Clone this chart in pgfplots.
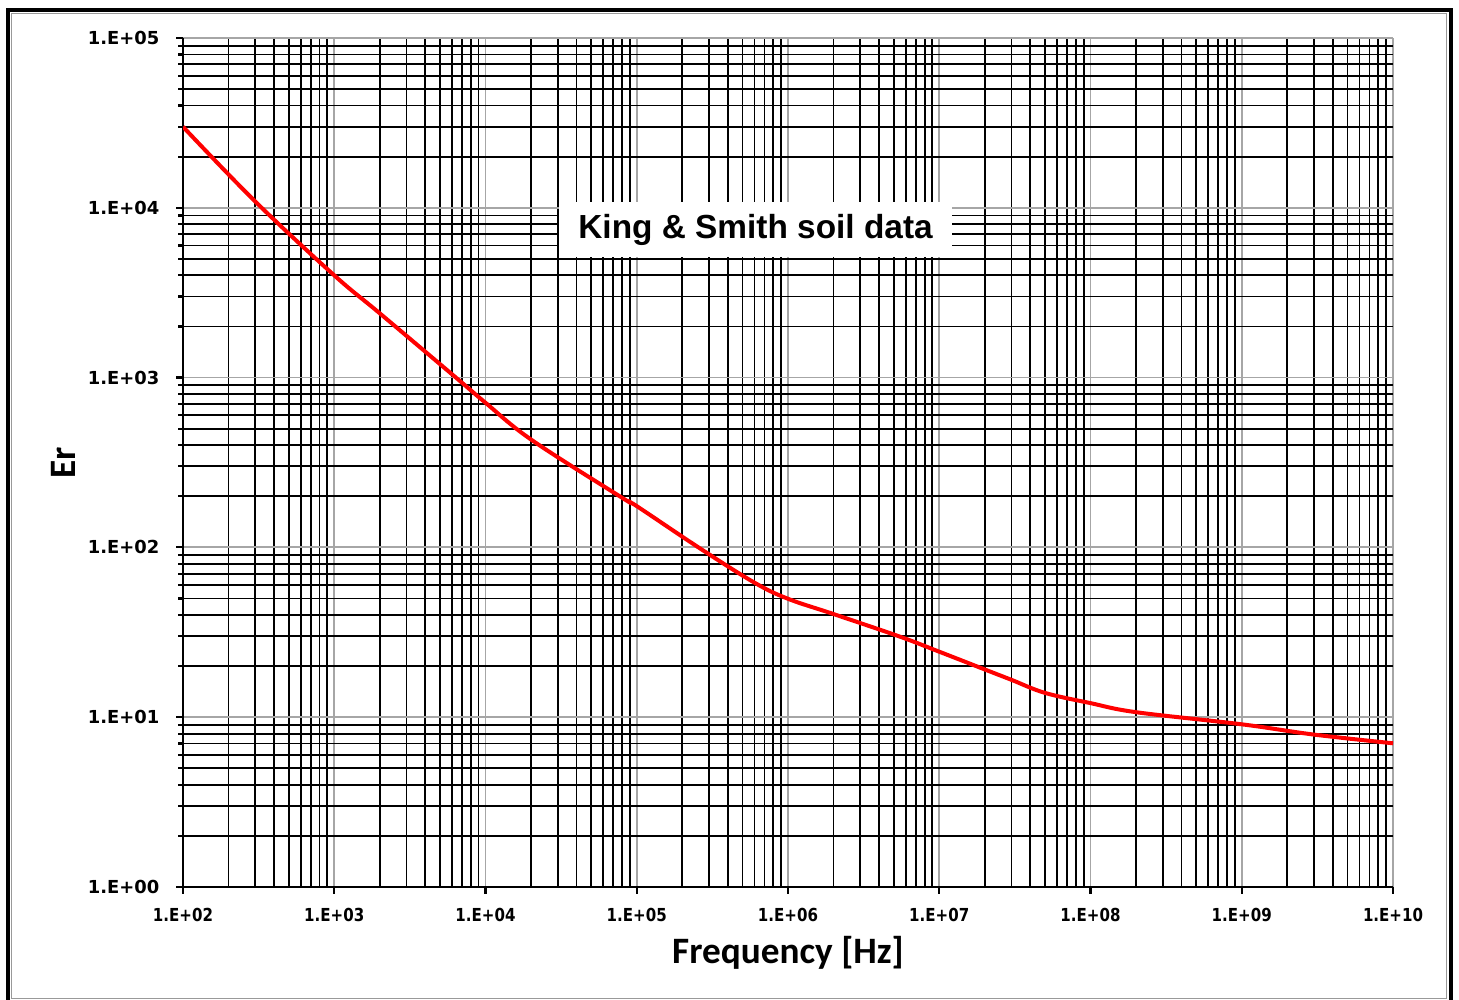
\documentclass[border=0pt]{standalone}
\usepackage{fontspec}
\setmainfont{Liberation Sans}
\newfontfamily\ytickfont{DejaVu Sans}
\newfontfamily\xtickfont{DejaVu Sans}[FakeStretch=0.84]
\newfontfamily\labelfont{Carlito}
\usepackage{pgfplots}
\pgfplotsset{compat=1.18}

\begin{document}
\begin{tikzpicture}
  \begin{axis}[name=ax,
      scale only axis, width=121mm, height=84.9mm,
      xmode=log, ymode=log,
      xmin=1e2, xmax=1e10, ymin=1, ymax=1e5,
      axis x line*=bottom, axis y line*=left,
      axis line style={line width=0.25mm, -},
      xtick={1e2,1e3,1e4,1e5,1e6,1e7,1e8,1e9,1e10},
      xticklabels={1.E+02,1.E+03,1.E+04,1.E+05,1.E+06,1.E+07,1.E+08,1.E+09,1.E+10},
      ytick={1,1e1,1e2,1e3,1e4,1e5},
      yticklabels={1.E+00,1.E+01,1.E+02,1.E+03,1.E+04,1.E+05},
      grid=both,
      major grid style={black!35, line width=0.18mm},
      minor grid style={black, line width=0.18mm},
      tick style={black, line width=0.22mm},
      tick align=outside,
      major tick length=0.7mm, minor tick length=0.5mm,
      minor x tick style={draw=none},
      xticklabel style={font=\xtickfont\bfseries\fontsize{5.1}{6}\selectfont, inner sep=0pt, anchor=north, yshift=-1.4mm},
      yticklabel style={font=\ytickfont\bfseries\fontsize{5.1}{6}\selectfont, inner sep=0pt, anchor=east, xshift=-1.6mm},
      xlabel={Frequency [Hz]}, ylabel={Er},
      every axis x label/.style={at={(axis description cs:0.5,-0.0777)}, anchor=center,
        font=\labelfont\bfseries\fontsize{10.6}{12}\selectfont},
      every axis y label/.style={at={(axis description cs:-0.0992,0.5)}, rotate=90, anchor=center,
        font=\labelfont\bfseries\fontsize{10.6}{12}\selectfont},
    ]
    % King & Smith soil permittivity
    \addplot[red, line width=0.4mm, smooth, tension=0.6] coordinates {
      (1e2,30000) (3e2,10900) (1e3,4000) (2e3,2390)
      (6.46e3,990) (1e4,711) (2.02e4,429) (8.15e4,194) (1e5,175)
      (2.62e5,98.6) (6e5,62) (1e6,49.8) (2e6,40.5) (5.5e6,29.8)
      (1e7,24.3) (2e7,19.1) (3e7,16.6) (5e7,13.9) (1e8,12.1)
      (2e8,10.7) (1e9,9.08) (3e9,7.9) (1e10,7.02)
    };
    \node[fill=white, inner sep=0pt, minimum width=39.3mm, minimum height=5.5mm,
      font=\bfseries\fontsize{9.5}{11}\selectfont] at (axis cs:6.1e5,7450) {King \& Smith soil data};
  \end{axis}
  \coordinate (O) at ([shift={(-18.3mm,-11.3mm)}]ax.south west);
  \useasboundingbox (O) rectangle ++(145.9mm,100mm);
  \draw[black, line width=0.4mm] ([shift={(0.8mm,-0.5mm)}]O) rectangle ([shift={(145.1mm,99.0mm)}]O);
  \draw[black!40, line width=0.12mm] ([shift={(1.15mm,0.17mm)}]O) rectangle ([shift={(144.65mm,98.65mm)}]O);
\end{tikzpicture}
\end{document}
